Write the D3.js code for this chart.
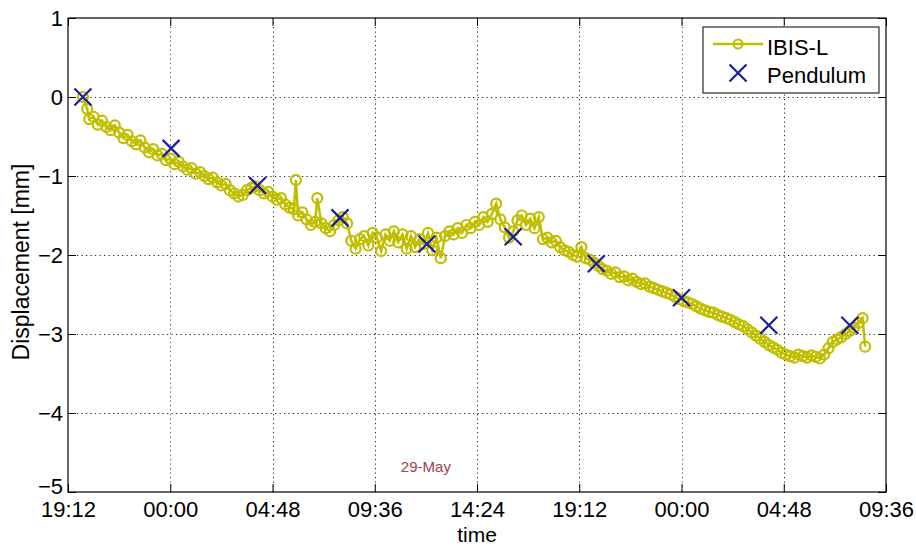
<!DOCTYPE html>
<html>
<head>
<meta charset="utf-8">
<script src="https://cdn.jsdelivr.net/npm/d3@7"></script>
<style>
  body { margin: 0; background: #fff; }
  svg { display: block; font-family: Arial, "Liberation Sans", sans-serif; }
  .grid line { stroke: #222; stroke-width: 1; stroke-dasharray: 1.2 3.3; }
  .grid line.day { stroke: #b03030; }
</style>
</head>
<body>
<svg id="chart" width="916" height="548"></svg>
<script>
// start of the record: 28-May 19:12
const startTime = new Date(2010, 4, 28, 19, 12);
const spanHours = 38.4;
const tickHours = [0, 4.8, 9.6, 14.4, 19.2, 24, 28.8, 33.6, 38.4];
const yTicks = [1, 0, -1, -2, -3, -4, -5];

// IBIS-L: hours after start, displacement in mm
const ibisHours = [
  0.7, 0.9, 1.0, 1.2, 1.4, 1.6, 1.8, 2.0, 2.2, 2.4, 2.6, 2.8, 3.0, 3.2, 3.4, 3.6, 3.8, 4.0, 4.2, 4.4,
  4.6, 4.8, 5.0, 5.2, 5.4, 5.6, 5.8, 6.0, 6.2, 6.4, 6.6, 6.8, 7.0, 7.2, 7.4, 7.6, 7.8, 8.0, 8.2, 8.4,
  8.6, 8.8, 9.0, 9.2, 9.4, 9.6, 9.8, 10.0, 10.2, 10.4, 10.6, 10.7, 10.8, 11.0, 11.2, 11.4, 11.6, 11.7, 11.9, 12.1,
  12.3, 12.5, 12.7, 12.9, 13.1, 13.3, 13.5, 13.7, 13.9, 14.1, 14.3, 14.5, 14.7, 14.9, 15.1, 15.3, 15.5, 15.7, 15.9, 16.1,
  16.3, 16.5, 16.7, 16.9, 17.1, 17.3, 17.5, 17.7, 17.9, 18.1, 18.3, 18.5, 18.7, 18.9, 19.1, 19.3, 19.5, 19.7, 19.9, 20.1,
  20.3, 20.5, 20.7, 20.9, 21.1, 21.3, 21.5, 21.7, 21.9, 22.1, 22.3, 22.5, 22.7, 22.9, 23.1, 23.3, 23.5, 23.7, 23.9, 24.1,
  24.3, 24.5, 24.7, 24.9, 25.1, 25.3, 25.5, 25.7, 25.9, 26.1, 26.3, 26.5, 26.7, 26.9, 27.1, 27.3, 27.5, 27.7, 27.9, 28.1,
  28.3, 28.5, 28.7, 28.9, 29.1, 29.3, 29.5, 29.7, 29.9, 30.1, 30.3, 30.5, 30.7, 30.9, 31.1, 31.3, 31.5, 31.7, 31.9, 32.1,
  32.3, 32.5, 32.7, 32.9, 33.1, 33.3, 33.5, 33.7, 33.9, 34.1, 34.3, 34.5, 34.7, 34.9, 35.1, 35.3, 35.5, 35.7, 35.9, 36.1,
  36.3, 36.5, 36.7, 36.9, 37.1, 37.3, 37.42
];
const ibisValues = [
  0.00, -0.15, -0.28, -0.25, -0.35, -0.30, -0.38, -0.42, -0.36, -0.45, -0.52, -0.48, -0.56, -0.60, -0.55, -0.64, -0.70, -0.66, -0.74, -0.72,
  -0.80, -0.78, -0.85, -0.82, -0.88, -0.92, -0.90, -0.97, -0.95, -1.00, -1.04, -1.02, -1.08, -1.12, -1.10, -1.18, -1.22, -1.26, -1.24, -1.18,
  -1.15, -1.13, -1.18, -1.22, -1.20, -1.26, -1.30, -1.28, -1.36, -1.40, -1.42, -1.05, -1.50, -1.46, -1.55, -1.62, -1.58, -1.28, -1.60, -1.66,
  -1.70, -1.62, -1.56, -1.52, -1.60, -1.82, -1.92, -1.80, -1.76, -1.88, -1.72, -1.78, -1.95, -1.74, -1.82, -1.70, -1.84, -1.74, -1.92, -1.76,
  -1.90, -1.80, -1.86, -1.72, -1.94, -1.78, -2.04, -1.76, -1.70, -1.74, -1.66, -1.72, -1.62, -1.66, -1.58, -1.62, -1.52, -1.58, -1.48, -1.35,
  -1.55, -1.65, -1.78, -1.70, -1.56, -1.50, -1.62, -1.54, -1.66, -1.52, -1.80, -1.78, -1.84, -1.82, -1.90, -1.94, -1.96, -2.00, -2.02, -1.90,
  -2.04, -2.06, -2.10, -2.14, -2.18, -2.20, -2.24, -2.22, -2.28, -2.27, -2.32, -2.30, -2.34, -2.37, -2.36, -2.40, -2.42, -2.44, -2.46, -2.48,
  -2.50, -2.53, -2.56, -2.58, -2.60, -2.62, -2.65, -2.68, -2.70, -2.72, -2.73, -2.76, -2.78, -2.80, -2.82, -2.85, -2.88, -2.90, -2.94, -2.98,
  -3.02, -3.06, -3.10, -3.14, -3.17, -3.20, -3.24, -3.26, -3.28, -3.30, -3.26, -3.28, -3.30, -3.27, -3.29, -3.31, -3.26, -3.18, -3.10, -3.07,
  -3.04, -3.00, -2.96, -2.92, -2.86, -2.80, -3.16
];

// Pendulum readings
const pendHours = [0.7, 4.84, 8.9, 12.77, 16.85, 20.9, 24.8, 28.8, 32.9, 36.7];
const pendValues = [0.0, -0.65, -1.12, -1.53, -1.86, -1.77, -2.11, -2.54, -2.89, -2.89];

const dateLabel = "29-May";

const hoursToDate = (h) => new Date(startTime.getTime() + Math.round(h * 3600) * 1000);

var svg = d3.select("#chart");
const plotLeft = 68, plotRight = 886, plotTop = 18, plotBottom = 492;

var x = d3.scaleTime()
  .domain([startTime, hoursToDate(spanHours)])
  .range([plotLeft, plotRight]);
var y = d3.scaleLinear().domain([-5, 1]).range([plotBottom, plotTop]);

const tickDates = tickHours.map(hoursToDate);
const fmt = d3.timeFormat("%H:%M");
const crisp = (v) => Math.round(v) + 0.5;

// grid
var grid = svg.append("g").attr("class", "grid");
grid.selectAll("line.v")
  .data(tickDates.slice(1, -1))
  .enter()
  .append("line")
  .attr("class", (d) => (d.getHours() === 0 && d.getMinutes() === 0 ? "v day" : "v"))
  .attr("x1", (d) => crisp(x(d))).attr("x2", (d) => crisp(x(d)))
  .attr("y1", plotTop).attr("y2", plotBottom);
grid.selectAll("line.h")
  .data(yTicks.slice(1, -1))
  .enter()
  .append("line")
  .attr("class", "h")
  .attr("x1", plotLeft).attr("x2", plotRight)
  .attr("y1", (d) => crisp(y(d))).attr("y2", (d) => crisp(y(d)));

// axes (MATLAB style, ticks inside on all four sides)
const tickFont = "22px";
svg.append("g")
  .attr("transform", `translate(0,${plotBottom})`)
  .call(d3.axisBottom(x).tickValues(tickDates).tickFormat(fmt).tickSizeInner(-8).tickSizeOuter(0))
  .call((g) => g.select(".domain").remove())
  .call((g) => g.selectAll("text").attr("font-size", tickFont).attr("fill", "#000").attr("y", 9));
svg.append("g")
  .attr("transform", `translate(0,${plotTop})`)
  .call(d3.axisTop(x).tickValues(tickDates).tickFormat("").tickSizeInner(-8).tickSizeOuter(0))
  .call((g) => g.select(".domain").remove());
svg.append("g")
  .attr("transform", `translate(${plotLeft},0)`)
  .call(d3.axisLeft(y).tickValues(yTicks).tickFormat(d3.format("d")).tickSizeInner(-8).tickSizeOuter(0))
  .call((g) => g.select(".domain").remove())
  .call((g) => g.selectAll("text").attr("font-size", tickFont).attr("fill", "#000").attr("x", -5)
    .attr("y", (d) => (d === -5 ? -6 : 0)));
svg.append("g")
  .attr("transform", `translate(${plotRight},0)`)
  .call(d3.axisRight(y).tickValues(yTicks).tickFormat("").tickSizeInner(-8).tickSizeOuter(0))
  .call((g) => g.select(".domain").remove());

svg.append("rect")
  .attr("x", plotLeft).attr("y", plotTop)
  .attr("width", plotRight - plotLeft).attr("height", plotBottom - plotTop)
  .attr("fill", "none").attr("stroke", "#000").attr("stroke-width", 1.2);

// labels
svg.append("text")
  .attr("x", (plotLeft + plotRight) / 2).attr("y", 542)
  .attr("text-anchor", "middle").attr("font-size", "21px")
  .text("time");
svg.append("text")
  .attr("transform", "translate(29,262) rotate(-90)")
  .attr("text-anchor", "middle").attr("font-size", "23px")
  .text("Displacement [mm]");
svg.append("text")
  .attr("x", x(hoursToDate(16.8))).attr("y", y(-4.75))
  .attr("text-anchor", "middle").attr("font-size", "15px")
  .attr("fill", "#a0404a")
  .text(dateLabel);

// IBIS-L series
const ibisColor = "#bfbf00";
const ibis = ibisHours.map((h, i) => ({ t: hoursToDate(h), v: ibisValues[i] }));
var line = d3.line().x((d) => x(d.t)).y((d) => y(d.v));
svg.append("path")
  .datum(ibis)
  .attr("d", line)
  .attr("fill", "none")
  .attr("stroke", ibisColor)
  .attr("stroke-width", 2.5);
svg.append("g")
  .selectAll("circle")
  .data(ibis)
  .enter()
  .append("circle")
  .attr("cx", (d) => x(d.t))
  .attr("cy", (d) => y(d.v))
  .attr("r", 5)
  .attr("fill", "none")
  .attr("stroke", ibisColor)
  .attr("stroke-width", 2.2);

// Pendulum crosses
const pendColor = "#1c1ca0";
const cross = (s) => `M${-s},${-s}L${s},${s}M${-s},${s}L${s},${-s}`;
svg.append("g")
  .selectAll("path")
  .data(pendHours.map((h, i) => ({ t: hoursToDate(h), v: pendValues[i] })))
  .enter()
  .append("path")
  .attr("transform", (d) => `translate(${x(d.t)},${y(d.v)})`)
  .attr("d", cross(8.5))
  .attr("fill", "none")
  .attr("stroke", pendColor)
  .attr("stroke-width", 2.2);

// legend
var legend = svg.append("g");
legend.append("rect")
  .attr("x", 703).attr("y", 27).attr("width", 176).attr("height", 66)
  .attr("fill", "#fff").attr("stroke", "#000").attr("stroke-width", 1);
legend.append("line")
  .attr("x1", 713).attr("x2", 763).attr("y1", 44).attr("y2", 44)
  .attr("stroke", ibisColor).attr("stroke-width", 2.5);
legend.append("circle")
  .attr("cx", 738).attr("cy", 44).attr("r", 4.5)
  .attr("fill", "none").attr("stroke", ibisColor).attr("stroke-width", 2);
legend.append("path")
  .attr("transform", "translate(738,73)")
  .attr("d", cross(8.5))
  .attr("stroke", pendColor).attr("stroke-width", 2.2);
legend.append("text").attr("x", 767).attr("y", 55).attr("font-size", "22px").text("IBIS-L");
legend.append("text").attr("x", 767).attr("y", 83).attr("font-size", "22px").text("Pendulum");
</script>
</body>
</html>
